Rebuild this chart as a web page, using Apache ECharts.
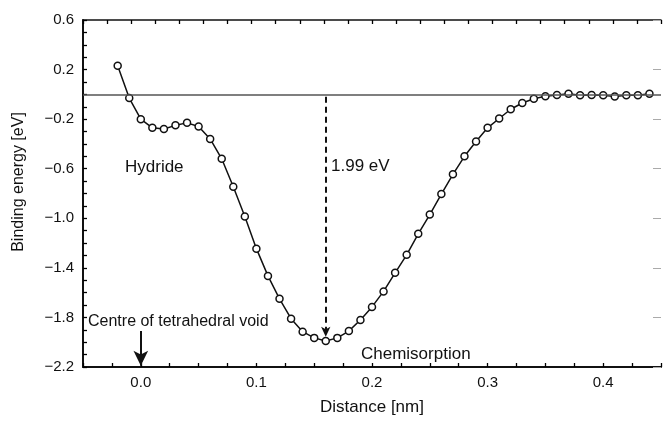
<!DOCTYPE html>
<html>
<head>
<meta charset="utf-8">
<script src="https://cdn.jsdelivr.net/npm/echarts@6/dist/echarts.min.js"></script>
<style>
  html, body { margin: 0; padding: 0; background: #fff; }
  #chart { width: 664px; height: 421px; }
</style>
</head>
<body>
<div id="chart"></div>
<script>
// distance [nm] and binding energy [eV]
const distance = [
  -0.02, -0.01, 0.00, 0.01, 0.02, 0.03, 0.04, 0.05, 0.06, 0.07,
  0.08, 0.09, 0.10, 0.11, 0.12, 0.13, 0.14, 0.15, 0.16, 0.17,
  0.18, 0.19, 0.20, 0.21, 0.22, 0.23, 0.24, 0.25, 0.26, 0.27,
  0.28, 0.29, 0.30, 0.31, 0.32, 0.33, 0.34, 0.35, 0.36, 0.37,
  0.38, 0.39, 0.40, 0.41, 0.42, 0.43, 0.44
]
const energy = [
  0.23, -0.03, -0.20, -0.27, -0.28, -0.25, -0.23, -0.26, -0.36, -0.52,
  -0.745, -0.985, -1.245, -1.465, -1.65, -1.81, -1.915, -1.965, -1.99, -1.965,
  -1.91, -1.82, -1.715, -1.59, -1.44, -1.295, -1.125, -0.97, -0.805, -0.645,
  -0.50, -0.38, -0.27, -0.195, -0.12, -0.07, -0.035, -0.015, -0.005, 0.005,
  -0.007, -0.005, -0.007, -0.018, -0.007, -0.007, 0.005
]
const minEnergy = 1.99
const minDistance = 0.16

const font = 'Liberation Sans, Arial, sans-serif'
const fmtY = v => (v < -1e-9 ? '\u2212' : '') + Math.abs(v).toFixed(1)
const fmtX = v => {
  const t = v * 10
  if (Math.abs(t - Math.round(t)) > 1e-6) return ''
  return Math.abs(v) < 1e-9 ? '0.0' : v.toFixed(1)
}
// tick-only axes (no line, no labels)
const bare = { axisLine: { show: false, onZero: false }, axisLabel: { show: false }, splitLine: { show: false } }
const tk = (inside, color, len) => ({ show: true, inside: inside, length: len || 4, lineStyle: { color: color, width: 1.3 } })

const myChart = echarts.init(document.getElementById('chart'))
myChart.setOption({
  animation: false,
  backgroundColor: '#fff',
  grid: { left: 83, right: -4, top: 20, bottom: 52 },
  xAxis: [{
    type: 'value', min: -0.05, max: 0.45, interval: 0.025,
    name: 'Distance [nm]', nameLocation: 'middle', nameGap: 32,
    nameTextStyle: { color: '#111', fontSize: 17, fontFamily: font },
    axisLine: { show: true, onZero: false, lineStyle: { color: '#111', width: 2 } },
    axisTick: { show: false },
    axisLabel: { color: '#111', fontSize: 15, fontFamily: font, margin: 8, formatter: fmtX },
    splitLine: { show: false }
  }, {
    type: 'value', position: 'top', min: 0, max: 24, interval: 1,
    axisLine: { show: true, onZero: false, lineStyle: { color: '#111', width: 1.5 } },
    axisTick: tk(true, 'black'),
    axisLabel: { show: false }, splitLine: { show: false }
  }, Object.assign({
    type: 'value', position: 'bottom', min: -0.05, max: 0.45, interval: 0.025,
    axisTick: tk(true, 'black')
  }, bare)],
  yAxis: [{
    type: 'value', min: -2.2, max: 0.6, interval: 0.4,
    axisLine: { show: true, onZero: false, lineStyle: { color: '#111', width: 2 } },
    axisTick: { show: false },
    axisLabel: { color: '#111', fontSize: 15, fontFamily: font, margin: 9, formatter: fmtY },
    splitLine: { show: false }
  }, Object.assign({
    type: 'value', position: 'right', min: -2.2, max: 0.6, interval: 0.4,
    axisTick: { show: true, inside: true, length: 8, lineStyle: { color: '#aaa', width: 1 } }
  }, bare), Object.assign({
    type: 'value', position: 'left', min: -2.2, max: 0.6, interval: 0.1,
    axisTick: tk(true, 'black')
  }, bare), Object.assign({
    type: 'value', position: 'right', offset: -585, min: -2.2, max: 0.6, interval: 0.1,
    axisTick: { show: false }
  }, bare)],
  series: [{
    type: 'line',
    data: distance.map((d, i) => [d, energy[i]]),
    symbol: 'circle', symbolSize: 7, showAllSymbol: true,
    lineStyle: { color: '#111', width: 1.5 },
    itemStyle: { color: '#fff', borderColor: '#111', borderWidth: 1.5 },
    z: 3,
    markLine: {
      silent: true, animation: false, symbol: ['none', 'none'], label: { show: false },
      data: [
        { yAxis: 0, lineStyle: { color: '#555', width: 1.5, type: 'solid' } },
        [
          { coord: [minDistance, -0.02], symbol: 'none', lineStyle: { color: '#111', width: 2, type: [6, 4] } },
          { coord: [minDistance, -minEnergy + 0.035], symbol: 'arrow', symbolSize: [7, 10] }
        ],
        [
          { coord: [0, -1.91], symbol: 'none', lineStyle: { color: '#111', width: 2, type: 'solid' } },
          { coord: [0, -2.19], symbol: 'arrow', symbolSize: [11, 15] }
        ]
      ]
    }
  }],
  graphic: [
    { type: 'text', x: 18.5, y: 182, rotation: Math.PI / 2,
      style: { text: 'Binding energy [eV]', fill: '#111', font: '16px ' + font, align: 'center', verticalAlign: 'middle' } },
    { type: 'text', x: 125, y: 167,
      style: { text: 'Hydride', fill: '#111', font: '17px ' + font, align: 'left', verticalAlign: 'middle' } },
    { type: 'text', x: 331, y: 166,
      style: { text: minEnergy.toFixed(2) + ' eV', fill: '#111', font: '17px ' + font, align: 'left', verticalAlign: 'middle' } },
    { type: 'text', x: 361, y: 354,
      style: { text: 'Chemisorption', fill: '#111', font: '17px ' + font, align: 'left', verticalAlign: 'middle' } },
    { type: 'text', x: 88, y: 322,
      style: { text: 'Centre of tetrahedral void', fill: '#111', font: '16px ' + font, align: 'left', verticalAlign: 'middle' } }
  ]
})
</script>
</body>
</html>
